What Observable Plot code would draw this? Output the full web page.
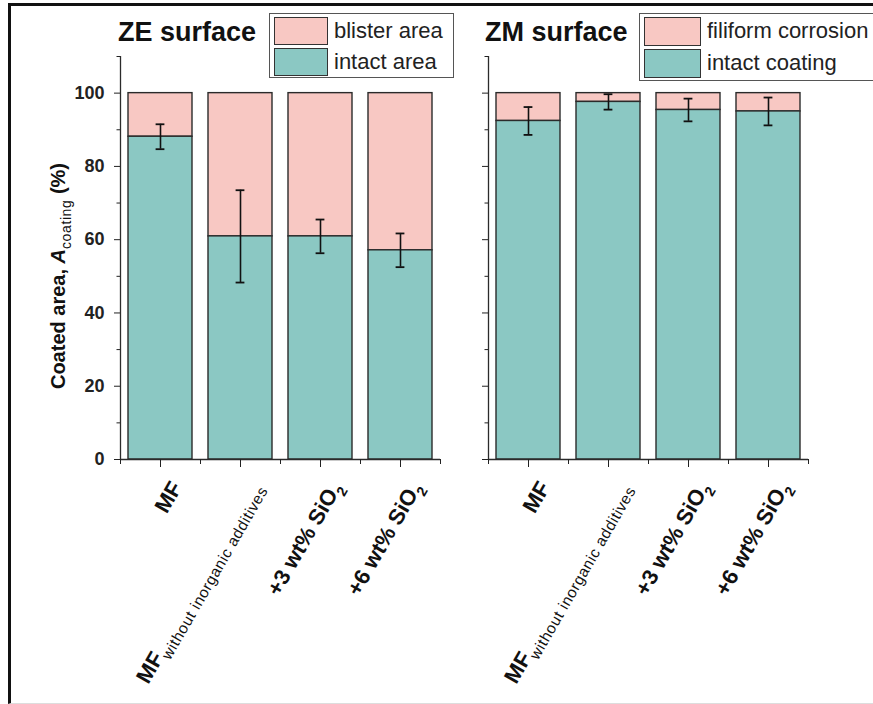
<!DOCTYPE html>
<html>
<head>
<meta charset="utf-8">
<script src="https://cdn.jsdelivr.net/npm/d3@7"></script>
<script src="https://cdn.jsdelivr.net/npm/@observablehq/plot@0.6"></script>
<style>
  body { margin: 0; background: #fff; font-family: "Liberation Sans", Arial, sans-serif; }
  #page { position: relative; width: 873px; height: 704px; overflow: hidden; background: #fff; }
  #border { position: absolute; left: 8px; top: 3px; width: 900px; height: 701px; box-sizing: border-box;
            border-top: 3px solid #111; border-left: 3px solid #111; border-bottom: 1px solid #ddd; }
  .panel { position: absolute; top: 0; }
  .title { position: absolute; font-weight: bold; font-size: 27px; color: #111; line-height: 1; white-space: nowrap; }
  .legend { position: absolute; border: 1px solid #555; background: #fff; box-sizing: border-box; }
  .sw { position: absolute; border: 1.5px solid #333; box-sizing: border-box; }
  .lt { position: absolute; font-size: 22px; color: #222; line-height: 1; white-space: nowrap; }
</style>
</head>
<body>
<div id="page"><div id="border"></div></div>
<script>
// Sample groups (x axis); "_{...}" marks a subscript
const groups = ["MF", "MF_{without inorganic additives}", "+3 wt% SiO_{2}", "+6 wt% SiO_{2}"];

// ZE surface: intact coating (%) and its error
const zeIntact = [88.1, 60.9, 60.9, 57.1];
const zeError  = [3.4, 12.6, 4.6, 4.6];

// ZM surface: intact coating (%) and its error
const zmIntact = [92.4, 97.6, 95.4, 95.0];
const zmError  = [3.8, 2.1, 3.1, 3.8];

const majorTicks = [0, 20, 40, 60, 80, 100];
const minorTicks = [10, 30, 50, 70, 90, 110];

const zeTitle = "ZE surface";
const zmTitle = "ZM surface";
const zeLegend = ["blister area", "intact area"];
const zmLegend = ["filiform corrosion", "intact coating"];
const yLabel = "Coated area, *A*_{coating} (%)";

const PINK = "#f8c8c3";
const TEAL = "#8bc8c3";
const EDGE = "#2b2b2b";

function panel({intact, error, width, left, right, tickLabels, withYLabel}) {
  const rows = groups.map((label, k) => ({
    label, pos: k + 1, intact: intact[k],
    lo: intact[k] - error[k], hi: intact[k] + error[k]
  }));
  const half = 0.4, cap = 0.055;
  const bounds = rows.map(d => d.pos - 0.5).concat(rows[rows.length - 1].pos + 0.5);
  const marks = [
    // damaged share on top, intact share at the bottom
    Plot.rect(rows, {x1: d => d.pos - half, x2: d => d.pos + half, y1: "intact", y2: 100,
      fill: PINK, stroke: EDGE, strokeWidth: 1.4}),
    Plot.rect(rows, {x1: d => d.pos - half, x2: d => d.pos + half, y1: 0, y2: "intact",
      fill: TEAL, stroke: EDGE, strokeWidth: 1.4}),
    // error bars
    Plot.ruleX(rows, {x: "pos", y1: "lo", y2: "hi", stroke: "#111", strokeWidth: 1.6}),
    Plot.ruleY(rows, {y: "hi", x1: d => d.pos - cap, x2: d => d.pos + cap, stroke: "#111", strokeWidth: 1.8}),
    Plot.ruleY(rows, {y: "lo", x1: d => d.pos - cap, x2: d => d.pos + cap, stroke: "#111", strokeWidth: 1.8}),
    // axis lines
    Plot.ruleX([bounds[0]], {stroke: EDGE, strokeWidth: 1.3}),
    Plot.ruleY([0], {stroke: EDGE, strokeWidth: 1.3}),
    Plot.axisY({ticks: majorTicks, tickSize: 6, tickPadding: 10, label: null,
      tickFormat: tickLabels ? d => String(d) : () => "", fontSize: 18, fontWeight: "bold"}),
    Plot.axisY({ticks: minorTicks, tickSize: 3.5, tickFormat: () => "", label: null}),
    Plot.axisX({ticks: rows.map(d => d.pos), tickSize: 8, tickFormat: () => "", label: null}),
    Plot.axisX({ticks: bounds, tickSize: 5, tickFormat: () => "", label: null}),
    // rotated group labels
    Plot.text(rows, {x: "pos", y: 0, text: "label", rotate: -60, textAnchor: "end",
      lineAnchor: "middle", dx: 16, dy: 24, fontSize: 22, fontWeight: "bold", fill: "#111"})
  ];
  if (withYLabel) {
    marks.push(Plot.text([yLabel], {text: d => d, frameAnchor: "left", rotate: -90, textAnchor: "middle",
      dx: -62, dy: 18, fontSize: 20, fontWeight: "bold", fill: "#111"}));
  }
  return Plot.plot({
    width, height: 704,
    marginLeft: left, marginRight: right, marginTop: 56, marginBottom: 245,
    x: {type: "linear", domain: [0.5, 4.5], axis: null, label: null},
    y: {domain: [0, 110], axis: null, label: null},
    style: {fontFamily: "'Liberation Sans', Arial, sans-serif", fontWeight: "bold", textAnchor: "middle",
      fontSize: "18px", color: "#222", background: "none", overflow: "visible"},
    marks
  });
}

// turn "_{...}" into subscripts and "*...*" into italics
function richText(svg) {
  const NS = "http://www.w3.org/2000/svg";
  svg.querySelectorAll("text").forEach(el => {
    const s = el.textContent;
    if (!/_\{|\*/.test(s)) return;
    const size = parseFloat(getComputedStyle(el).fontSize) || 18;
    el.textContent = "";
    const parts = s.split(/(_\{[^}]*\}|\*[^*]*\*)/).filter(Boolean);
    let shift = 0;
    for (const p of parts) {
      const t = document.createElementNS(NS, "tspan");
      if (p.startsWith("_{")) {
        const sub = p.slice(2, -1);
        const long = sub.length > 2;
        t.textContent = sub;
        t.setAttribute("font-size", (long ? 0.7 : 0.65) * size);
        if (long) { t.setAttribute("font-weight", "normal"); t.setAttribute("letter-spacing", "0.6"); }
        shift = size * 0.3;
        t.setAttribute("dy", shift);
      } else {
        const it = p.startsWith("*");
        t.textContent = it ? p.slice(1, -1) : p;
        if (it) t.setAttribute("font-style", "italic");
        if (shift) { t.setAttribute("dy", -shift); shift = 0; }
      }
      el.appendChild(t);
    }
  });
}

const page = document.getElementById("page");

const ze = panel({intact: zeIntact, error: zeError, width: 470, left: 120, right: 30, tickLabels: true, withYLabel: true});
ze.classList.add("panel"); ze.style.left = "0px";
const zm = panel({intact: zmIntact, error: zmError, width: 403, left: 18, right: 65, tickLabels: false, withYLabel: false});
zm.classList.add("panel"); zm.style.left = "470px";
page.appendChild(ze);
page.appendChild(zm);
richText(ze);
richText(zm);

function addTitle(text, left) {
  const d = document.createElement("div");
  d.className = "title"; d.textContent = text;
  d.style.left = left + "px"; d.style.top = "19px";
  page.appendChild(d);
}
function addLegend(labels, box) {
  const lg = document.createElement("div");
  lg.className = "legend";
  Object.assign(lg.style, {left: box.x + "px", top: box.y + "px", width: box.w + "px", height: box.h + "px"});
  [PINK, TEAL].forEach((c, k) => {
    const sw = document.createElement("div");
    sw.className = "sw";
    Object.assign(sw.style, {left: "4px", top: (3 + k * box.row) + "px", width: box.sw + "px", height: (box.row - 3) + "px", background: c});
    lg.appendChild(sw);
    const t = document.createElement("div");
    t.className = "lt"; t.textContent = labels[k];
    Object.assign(t.style, {left: (box.sw + 10) + "px", top: (6 + k * box.row) + "px"});
    lg.appendChild(t);
  });
  page.appendChild(lg);
}
addTitle(zeTitle, 118);
addTitle(zmTitle, 485);
addLegend(zeLegend, {x: 269, y: 13, w: 185, h: 65, row: 31, sw: 54});
addLegend(zmLegend, {x: 639, y: 13, w: 240, h: 68, row: 32, sw: 57});
</script>
</body>
</html>
